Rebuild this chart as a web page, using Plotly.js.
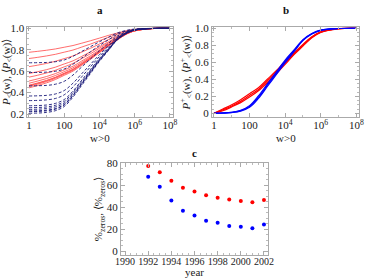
<!DOCTYPE html>
<html><head><meta charset="utf-8">
<script src="https://cdn.plot.ly/plotly-3.0.1.min.js"></script>
<style>html,body{margin:0;padding:0;background:#fff}#c{width:374px;height:278px}</style>
</head><body><div id="c"></div>
<script>
// w grid (w>0), log-spaced
const wGrid = [1, 3.16, 10, 31.6, 100, 316, 1000, 3160, 1e4, 3.16e4, 1e5, 3.16e5, 1e6, 1e7, 1e8];

// Panel a: red curves P<(w) (years 1992..2002)
const redA1 = [0.776,0.785,0.795,0.807,0.823,0.839,0.861,0.884,0.908,0.933,0.955,0.976,0.990,0.999,1.0];
const redA2 = [0.718,0.729,0.742,0.757,0.777,0.797,0.825,0.853,0.884,0.915,0.944,0.970,0.987,0.999,1.0];
const redA3 = [0.642,0.656,0.672,0.692,0.717,0.742,0.778,0.814,0.853,0.893,0.928,0.962,0.984,0.998,1.0];
const redA4 = [0.578,0.595,0.614,0.637,0.667,0.696,0.738,0.781,0.827,0.873,0.916,0.956,0.981,0.998,1.0];
const redA5 = [0.544,0.562,0.583,0.608,0.640,0.672,0.717,0.763,0.813,0.863,0.909,0.952,0.979,0.998,1.0];
const redA6 = [0.508,0.528,0.550,0.577,0.611,0.646,0.695,0.744,0.798,0.852,0.902,0.948,0.978,0.998,1.0];
const redA7 = [0.487,0.508,0.531,0.559,0.595,0.631,0.682,0.733,0.790,0.846,0.897,0.946,0.977,0.997,1.0];
const redA8 = [0.469,0.490,0.514,0.543,0.581,0.618,0.671,0.724,0.782,0.841,0.894,0.944,0.976,0.997,1.0];
const redA9 = [0.457,0.479,0.503,0.533,0.571,0.609,0.663,0.718,0.777,0.837,0.891,0.943,0.976,0.997,1.0];
const redA10 = [0.444,0.466,0.491,0.522,0.561,0.600,0.655,0.711,0.772,0.833,0.889,0.942,0.975,0.997,1.0];
const redA11 = [0.465,0.486,0.510,0.540,0.577,0.615,0.668,0.722,0.781,0.840,0.893,0.944,0.976,0.997,1.0];

// Panel a: blue dashed curves
const blueA1 = [0.678,0.679,0.681,0.688,0.704,0.739,0.784,0.829,0.874,0.915,0.955,0.979,0.993,0.999,1.0];
const blueA2 = [0.587,0.588,0.591,0.599,0.620,0.665,0.723,0.781,0.839,0.891,0.942,0.973,0.990,0.999,1.0];
const blueA3 = [0.462,0.464,0.467,0.478,0.505,0.564,0.640,0.715,0.790,0.857,0.925,0.965,0.988,0.998,1.0];
const blueA4 = [0.368,0.370,0.374,0.387,0.419,0.488,0.577,0.665,0.754,0.833,0.912,0.959,0.985,0.998,1.0];
const blueA5 = [0.325,0.327,0.332,0.345,0.379,0.453,0.548,0.642,0.737,0.821,0.906,0.956,0.984,0.998,1.0];
const blueA6 = [0.277,0.279,0.284,0.299,0.335,0.414,0.516,0.617,0.718,0.808,0.899,0.953,0.983,0.998,1.0];
const blueA7 = [0.259,0.261,0.266,0.281,0.318,0.400,0.504,0.607,0.711,0.804,0.896,0.952,0.983,0.998,1.0];
const blueA8 = [0.228,0.230,0.236,0.251,0.290,0.375,0.483,0.591,0.699,0.795,0.892,0.950,0.982,0.998,1.0];
const blueA9 = [0.222,0.224,0.230,0.245,0.284,0.370,0.479,0.588,0.697,0.794,0.891,0.949,0.982,0.998,1.0];
const blueA10 = [0.207,0.209,0.215,0.231,0.270,0.358,0.469,0.580,0.691,0.790,0.889,0.948,0.982,0.998,1.0];
const blueA11 = [0.243,0.245,0.251,0.266,0.303,0.387,0.493,0.599,0.705,0.800,0.894,0.951,0.983,0.998,1.0];

// Panel b: P+<(w) bundles
const redB1 = [0,0.040,0.085,0.140,0.210,0.280,0.380,0.480,0.590,0.700,0.800,0.895,0.955,0.995,1.0];
const redB2 = [0,0.050,0.100,0.160,0.230,0.300,0.400,0.500,0.610,0.710,0.810,0.900,0.958,0.995,1.0];
const redB3 = [0,0.030,0.075,0.125,0.190,0.265,0.360,0.465,0.575,0.690,0.790,0.888,0.952,0.994,1.0];
const blueB1 = [0,0.003,0.010,0.030,0.080,0.190,0.330,0.470,0.610,0.735,0.860,0.935,0.977,0.997,1.0];
const blueB2 = [0,0.004,0.012,0.035,0.090,0.205,0.345,0.485,0.625,0.745,0.866,0.938,0.978,0.997,1.0];
const blueB3 = [0,0.002,0.008,0.025,0.070,0.175,0.315,0.455,0.595,0.725,0.854,0.932,0.976,0.997,1.0];

// Panel c
const years = [1992,1993,1994,1995,1996,1997,1998,1999,2000,2001,2002];
const zerosRed = [77.6,71.8,64.2,57.8,54.4,50.8,48.7,46.9,45.7,44.4,46.5];
const zerosBlue = [67.8,58.7,46.2,36.8,32.5,27.7,25.9,22.8,22.2,20.7,24.3];

// Tick labels
const logTickVals = [1, 100, 1e4, 1e6, 1e8];
const logTickText = ['1','100','10<sup>4</sup>','10<sup>6</sup>','10<sup>8</sup>'];
const yearTicks = [1990,1992,1994,1996,1998,2000,2002];

const redA = [redA1,redA2,redA3,redA4,redA5,redA6,redA7,redA8,redA9,redA10,redA11];
const blueA = [blueA1,blueA2,blueA3,blueA4,blueA5,blueA6,blueA7,blueA8,blueA9,blueA10,blueA11];

const traces = [];
redA.forEach(y => traces.push({x:wGrid, y:y, xaxis:'x', yaxis:'y', mode:'lines',
  line:{color:'rgb(255,70,70)', width:0.8, shape:'spline'}, hoverinfo:'skip'}));
blueA.forEach(y => traces.push({x:wGrid, y:y, xaxis:'x', yaxis:'y', mode:'lines',
  line:{color:'rgb(25,25,120)', width:0.9, dash:'3px,2px', shape:'spline'}, hoverinfo:'skip'}));
[redB1,redB2,redB3].forEach(y => traces.push({x:wGrid, y:y, xaxis:'x2', yaxis:'y2', mode:'lines',
  line:{color:'rgb(255,0,0)', width:1.2, shape:'spline'}, hoverinfo:'skip'}));
[blueB1,blueB2,blueB3].forEach(y => traces.push({x:wGrid, y:y, xaxis:'x2', yaxis:'y2', mode:'lines',
  line:{color:'rgb(0,0,255)', width:1.2, shape:'spline'}, hoverinfo:'skip'}));
traces.push({x:years, y:zerosRed, xaxis:'x3', yaxis:'y3', mode:'markers',
  marker:{color:'rgb(255,0,0)', size:4}});
traces.push({x:years, y:zerosBlue, xaxis:'x3', yaxis:'y3', mode:'markers',
  marker:{color:'rgb(0,0,255)', size:4}});

const tickFont = {family:'Liberation Serif, serif', size:11, color:'#222'};
const titleFont = {family:'Liberation Serif, serif', size:11, color:'#222'};
function frame(extra){
  return Object.assign({showgrid:false, zeroline:false, showline:true, linecolor:'#aaa', linewidth:1,
    mirror:'allticks', ticks:'inside', ticklen:4, tickcolor:'#aaa', tickwidth:1,
    tickfont:tickFont, tickangle:0}, extra);
}
function label(text, x, y, bold){
  return {text: bold ? '<b>'+text+'</b>' : text, x:x/374, y:1-y/278, xref:'paper', yref:'paper',
    showarrow:false, xanchor:'center', yanchor:'middle',
    font:{family:'Liberation Serif, serif', size:11, color: bold ? '#111' : '#222'}};
}
const layout = {
  width:374, height:278, margin:{l:0,r:0,t:0,b:0}, showlegend:false,
  paper_bgcolor:'#fff', plot_bgcolor:'#fff',
  xaxis: frame({domain:[0.0735,0.4626], type:'log', range:[-0.085,8.18], anchor:'y',
    tickmode:'array', tickvals:logTickVals, ticktext:logTickText, ticklabelstandoff:-2,
    minor:{ticks:'inside', ticklen:2, tickcolor:'#bbb', tickmode:'array', tickvals:[10,1000,1e5,1e7]}}),
  yaxis: frame({domain:[0.5791,0.9029], range:[0.172,1.012], anchor:'x',
    tickmode:'array', tickvals:[0.2,0.4,0.6,0.8,1.0], ticktext:['0.2','0.4','0.6','0.8','1.0'],
    minor:{ticks:'inside', ticklen:2, tickcolor:'#bbb', dtick:0.05},
    title:{text:'<i>P</i><sub>&lt;</sub>(w), ⟨<i>P</i><sub>&lt;</sub>(w)⟩', font:titleFont, standoff:2}}),
  xaxis2: frame({domain:[0.5668,0.9599], type:'log', range:[-0.11,8.15], anchor:'y2',
    tickmode:'array', tickvals:logTickVals, ticktext:logTickText, ticklabelstandoff:-2,
    minor:{ticks:'inside', ticklen:2, tickcolor:'#bbb', tickmode:'array', tickvals:[10,1000,1e5,1e7]}}),
  yaxis2: frame({domain:[0.5791,0.9029], range:[-0.044,1.015], anchor:'x2',
    tickmode:'array', tickvals:[0,0.2,0.4,0.6,0.8,1.0], ticktext:['0','0.2','0.4','0.6','0.8','1.0'],
    minor:{ticks:'inside', ticklen:2, tickcolor:'#bbb', dtick:0.05},
    title:{text:'<i>P</i><sup>+</sup><sub>&lt;</sub>(w), ⟨<i>P</i><sup>+</sup><sub>&lt;</sub>(w)⟩', font:titleFont, standoff:2}}),
  xaxis3: frame({domain:[0.3235,0.7166], range:[1989.65,2002.35], anchor:'y3',
    tickmode:'array', tickvals:yearTicks, ticktext:yearTicks.map(String),
    tickfont:{family:'Liberation Serif, serif', size:10, color:'#222'}, ticklabelstandoff:-3,
    minor:{ticks:'inside', ticklen:2, tickcolor:'#bbb', dtick:0.5}}),
  yaxis3: frame({domain:[0.0827,0.4137], range:[-3.6,80.3], anchor:'x3',
    tickmode:'array', tickvals:[0,20,40,60,80],
    minor:{ticks:'inside', ticklen:2, tickcolor:'#bbb', dtick:5},
    title:{text:'%<sub>zeros</sub>, ⟨%<sub>zeros</sub>⟩', font:titleFont, standoff:0}}),
  annotations:[
    label('a', 100, 10, true),
    label('b', 285.5, 10, true),
    label('c', 194.5, 153, true),
    label('w>0', 100, 138, false),
    label('w>0', 285.5, 138, false),
    label('year', 194.5, 272, false)
  ]
};
Plotly.newPlot('c', traces, layout, {staticPlot:true, displayModeBar:false});
</script></body></html>
